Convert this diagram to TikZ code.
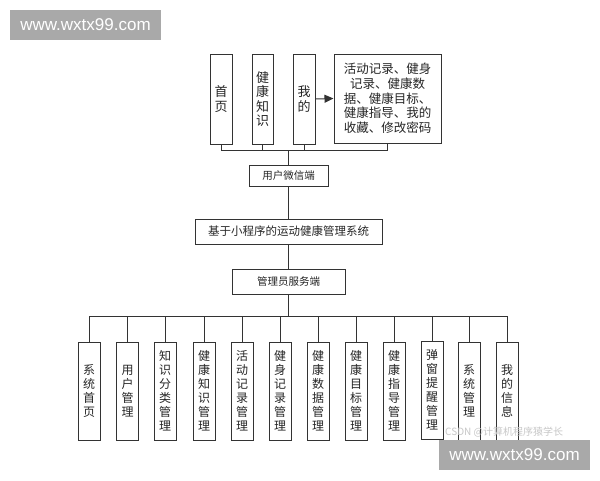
\documentclass[tikz,border=0pt]{standalone}
\usepackage{fontspec}
\setmainfont{Liberation Sans}
\newfontfamily\cjk{Noto Sans CJK SC}
\usetikzlibrary{arrows.meta}
\definecolor{lc}{HTML}{333333}
\definecolor{wm}{HTML}{A9A9A9}
\tikzset{
  bx/.style={draw=lc, line width=1pt, fill=white, inner sep=0pt, align=center, text=black!85},
  vbox/.style={bx, minimum width=22pt, minimum height=98pt, font=\cjk\fontsize{12}{14}\selectfont},
  tbox/.style={bx, minimum width=22pt, minimum height=90pt, font=\cjk\fontsize{13}{14.5}\selectfont},
  hbox/.style={bx, font=\cjk\fontsize{10.5}{12}\selectfont},
  ln/.style={draw=lc, line width=1pt},
  wmark/.style={fill=wm, text=white, inner sep=0pt, font=\fontsize{17}{17}\selectfont}
}
\begin{document}
\begin{tikzpicture}[x=1pt,y=-1pt]
\useasboundingbox (0,0) rectangle (600,480);
\fill[white] (0,0) rectangle (600,480);
% top layer
\node[tbox] (p1) at (221,99) {首\\页};
\node[tbox, minimum width=21pt] (p2) at (262.5,99) {健\\康\\知\\识};
\node[tbox] (p3) at (304,99) {我\\的};
\node[bx, minimum width=107pt, minimum height=89pt, font=\cjk\fontsize{12.5}{14.7}\selectfont] (p4) at (387.5,98.5)
  {活动记录、健身\\记录、健康数\\据、健康目标、\\健康指导、我的\\收藏、修改密码};
\draw[ln, -{Triangle[length=9pt,width=8pt]}] (p3.east) -- (p4.west);
\coordinate (j1) at (288.5,150);
\node[hbox, minimum width=79pt, minimum height=21pt] (u) at (288.5,175.5) {用户微信端};
\draw[ln] (p1.south) -- (p1.south |- j1) -- (p4.south |- j1) -- (p4.south);
\draw[ln] (p2.south) -- (p2.south |- j1);
\draw[ln] (p3.south) -- (p3.south |- j1);
\draw[ln] (j1) -- (u.north);
% middle
\node[hbox, minimum width=187pt, minimum height=25pt, font=\cjk\fontsize{11.5}{12}\selectfont] (m) at (288.5,231.5) {基于小程序的运动健康管理系统};
\node[hbox, minimum width=113pt, minimum height=25pt] (a) at (288.5,281.5) {管理员服务端};
\draw[ln] (u.south) -- (m.north);
\draw[ln] (m.south) -- (a.north);
\coordinate (j2) at (288.5,316);
\draw[ln] (a.south) -- (j2);
% bottom layer
\node[vbox] (b1) at (89,391) {系\\统\\首\\页};
\node[vbox] (b2) at (127.5,391) {用\\户\\管\\理};
\node[vbox] (b3) at (165,391) {知\\识\\分\\类\\管\\理};
\node[vbox] (b4) at (204,391) {健\\康\\知\\识\\管\\理};
\node[vbox] (b5) at (242,391) {活\\动\\记\\录\\管\\理};
\node[vbox] (b6) at (280,391) {健\\身\\记\\录\\管\\理};
\node[vbox] (b7) at (318,391) {健\\康\\数\\据\\管\\理};
\node[vbox] (b8) at (356,391) {健\\康\\目\\标\\管\\理};
\node[vbox] (b9) at (394,391) {健\\康\\指\\导\\管\\理};
\node[vbox] (b10) at (432,390) {弹\\窗\\提\\醒\\管\\理};
\node[vbox] (b11) at (469,391) {系\\统\\管\\理};
\node[vbox] (b12) at (507,391) {我\\的\\信\\息};
\draw[ln] (b1.north) -- (b1.north |- j2) -- (b12.north |- j2) -- (b12.north);
\foreach \i in {2,...,11} { \draw[ln] (b\i.north) -- (b\i.north |- j2); }
% watermarks
\node[text=black!22, font=\cjk\fontsize{10}{10}\selectfont, anchor=west, inner sep=0pt] (csdn) at (445,432) {CSDN @计算机程序猿学长};
\node[wmark, minimum width=151pt, minimum height=30pt] (w1) at (85.5,25) {www.wxtx99.com};
\node[wmark, minimum width=151pt, minimum height=30pt] (w2) at (514.5,455) {www.wxtx99.com};
\end{tikzpicture}
\end{document}
